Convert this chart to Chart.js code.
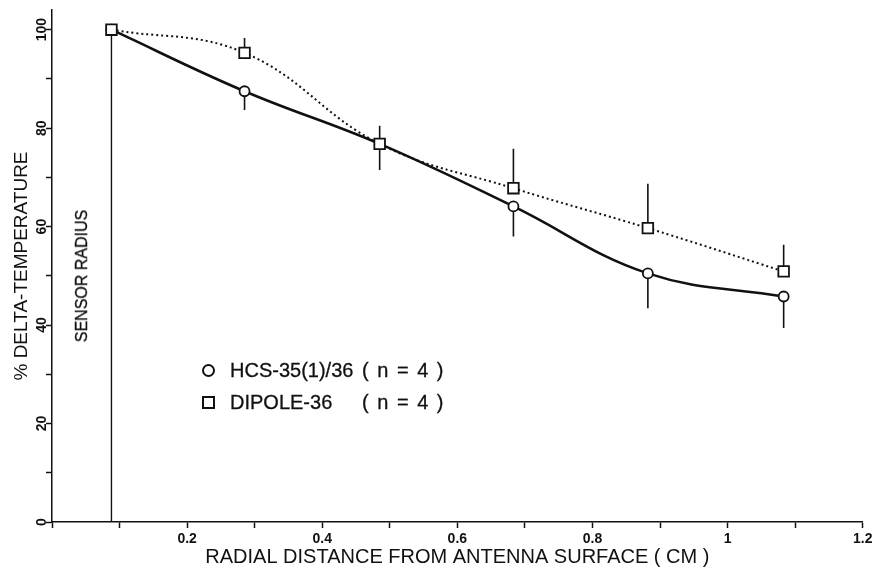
<!DOCTYPE html>
<html>
<head>
<meta charset="utf-8">
<script src="https://cdn.jsdelivr.net/npm/chart.js@4.4.1/dist/chart.umd.min.js"></script>
<style>
  body { margin: 0; background: #fff; }
  #wrap { position: relative; width: 872px; height: 572px; font-family: "Liberation Sans", Arial, sans-serif; color: #111; }
  #chart { position: absolute; left: 0; top: 0; }
  .sensor { position: absolute; left: 82px; top: 276px; transform: translate(-50%, -50%) rotate(-90deg); font-size: 16px; white-space: nowrap; -webkit-text-stroke: 0.3px #111; }
  .legend { position: absolute; left: 200px; top: 354px; font-size: 20px; line-height: 32px; -webkit-text-stroke: 0.3px #111; }
  .row { position: relative; height: 32px; width: 260px; white-space: pre; }
  .mark { position: absolute; left: 2px; top: 10px; width: 9px; height: 9px; border: 2px solid #111; }
  .mark.circle { border-radius: 50%; }
  .name { position: absolute; left: 30px; }
  .n { position: absolute; left: 162px; word-spacing: 3px; }
</style>
</head>
<body>
<div id="wrap">
  <canvas id="chart" width="872" height="572"></canvas>
  <div class="sensor">SENSOR RADIUS</div>
  <div class="legend">
    <div class="row"><span class="mark circle"></span><span class="name">HCS-35(1)/36</span><span class="n">( n = 4 )</span></div>
    <div class="row"><span class="mark"></span><span class="name">DIPOLE-36</span><span class="n">( n = 4 )</span></div>
  </div>
</div>
<script>
// radial distance (cm) of the measurement points
const xValues = [0.088, 0.285, 0.485, 0.683, 0.882, 1.083];
// % delta-temperature, HCS-35(1)/36 (circles) with lower error ends
const hcsValues = [100, 87.5, 76.8, 64.1, 50.5, 45.8];
const hcsErrLow = [null, 83.7, 71.5, 58.0, 43.4, 39.4];
// % delta-temperature, DIPOLE-36 (squares) with upper error ends
const dipoleValues = [100, 95.3, 76.8, 67.8, 59.7, 50.9];
const dipoleErrHigh = [null, 98.3, 80.5, 75.8, 68.7, 56.3];
// vertical sensor radius marker
const sensorRadius = 0.088;
const sensorY = [0, 100];
const xLabelled = [0.2, 0.4, 0.6, 0.8, 1, 1.2];
const yLabelled = [0, 20, 40, 60, 80, 100];
const yMinorStep = 10;

const ink = '#111';

function points(ys) {
    return xValues.map((x, i) => ({ x: x, y: ys[i] }));
}

// each error bar is a two point segment, broken by a null point
function errorSegments(means, ends) {
    const pts = [];
    xValues.forEach((x, i) => {
        if (ends[i] == null) return;
        pts.push({ x: x, y: means[i] }, { x: x, y: ends[i] }, { x: x, y: null });
    });
    return pts;
}

const tickFont = { family: 'Liberation Sans', size: 14, weight: 'bold' };
const titleFont = { family: 'Liberation Sans', size: 20 };

new Chart(document.getElementById('chart'), {
    type: 'line',
    data: {
        datasets: [
            {
                label: 'DIPOLE-36',
                data: points(dipoleValues),
                borderColor: ink,
                borderWidth: 2,
                borderDash: [2, 3],
                tension: 0.4,
                pointStyle: 'rect',
                pointRadius: 7.5,
                pointBorderWidth: 1.8,
                pointBackgroundColor: '#fff',
                pointBorderColor: ink
            },
            {
                label: 'HCS-35(1)/36',
                data: points(hcsValues),
                borderColor: ink,
                borderWidth: 2.6,
                tension: 0.4,
                pointStyle: 'circle',
                pointRadius: 5,
                pointBorderWidth: 1.8,
                pointBackgroundColor: '#fff',
                pointBorderColor: ink
            },
            {
                label: 'dipole error',
                data: errorSegments(dipoleValues, dipoleErrHigh),
                borderColor: ink,
                borderWidth: 1.6,
                pointRadius: 0,
                spanGaps: false
            },
            {
                label: 'hcs error',
                data: errorSegments(hcsValues, hcsErrLow),
                borderColor: ink,
                borderWidth: 1.6,
                pointRadius: 0,
                spanGaps: false
            },
            {
                label: 'sensor radius',
                data: sensorY.map(y => ({ x: sensorRadius, y: y })),
                borderColor: ink,
                borderWidth: 1.4,
                pointRadius: 0
            }
        ]
    },
    options: {
        responsive: false,
        animation: false,
        layout: { padding: { left: 0, right: 7, top: 10, bottom: 0 } },
        plugins: { legend: { display: false }, tooltip: { enabled: false } },
        scales: {
            x: {
                type: 'linear',
                min: 0,
                max: 1.2,
                border: { color: ink, width: 1.5 },
                grid: { drawOnChartArea: false, tickLength: 6, tickColor: ink, tickWidth: 1.5 },
                ticks: {
                    stepSize: 0.1,
                    autoSkip: false,
                    maxRotation: 0,
                    color: ink,
                    font: tickFont,
                    padding: 3,
                    callback: function(v) {
                        const k = Math.round(v * 10);
                        return xLabelled.some(t => Math.round(t * 10) === k) ? String(k / 10) : '';
                    }
                },
                title: {
                    display: true,
                    text: 'RADIAL DISTANCE FROM ANTENNA SURFACE ( CM )',
                    color: ink,
                    font: titleFont,
                    padding: { top: 0, bottom: 3 }
                },
                afterFit: function(s) {
                    s.height = 50;
                    s.paddingLeft = 0;
                    s.paddingRight = 0;
                }
            },
            y: {
                type: 'linear',
                min: 0,
                max: 104,
                border: { color: ink, width: 1.5 },
                grid: { drawOnChartArea: false, tickLength: 6, tickColor: ink, tickWidth: 1.5 },
                // ticks every 10 up to the last labelled value, the axis itself runs a bit higher
                afterBuildTicks: function(s) {
                    const top = yLabelled[yLabelled.length - 1];
                    const ticks = [];
                    for (let v = 0; v <= top; v += yMinorStep) ticks.push({ value: v });
                    s.ticks = ticks;
                },
                ticks: {
                    autoSkip: false,
                    minRotation: 90,
                    maxRotation: 90,
                    crossAlign: 'center',
                    padding: -8,
                    color: ink,
                    font: tickFont,
                    callback: function(v) {
                        return yLabelled.includes(v) ? String(v) : '';
                    }
                },
                title: {
                    display: true,
                    text: '% DELTA-TEMPERATURE',
                    color: ink,
                    font: { family: 'Liberation Sans', size: 19 },
                    padding: { top: 10, bottom: 0 }
                },
                afterFit: function(s) {
                    s.width = 52;
                    s.paddingTop = 0;
                    s.paddingBottom = 0;
                }
            }
        }
    }
});
</script>
</body>
</html>
